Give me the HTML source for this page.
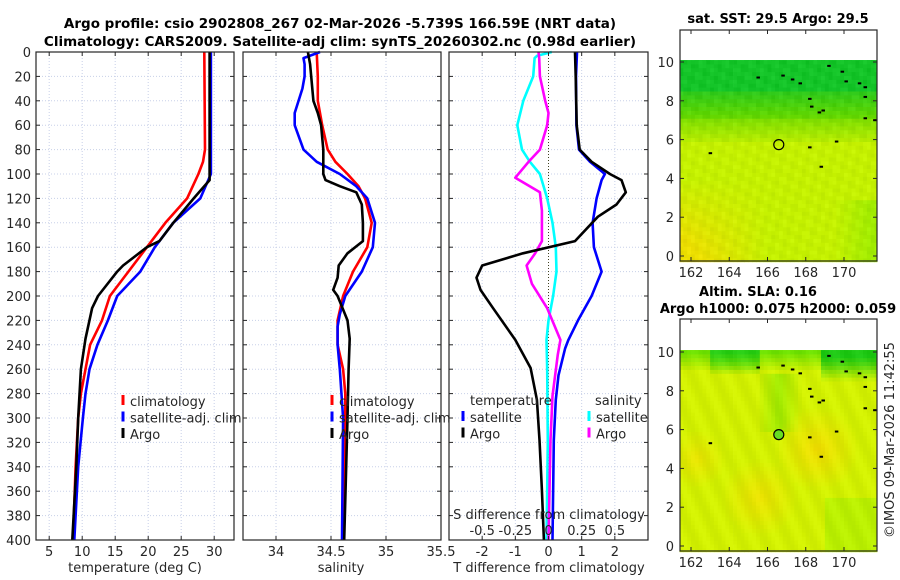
<!DOCTYPE html>
<html><head><meta charset="utf-8">
<style>
body{margin:0;background:#fff;}
svg{display:block;font-family:"DejaVu Sans","Liberation Sans",sans-serif;}
</style></head>
<body>
<svg id="fig" width="900" height="580" viewBox="0 0 900 580">
<text x="340" y="28" text-anchor="middle" font-weight="bold" font-size="13.5">Argo profile: csio 2902808_267 02-Mar-2026 -5.739S 166.59E (NRT data)</text>
<text x="340" y="46" text-anchor="middle" font-weight="bold" font-size="13.5">Climatology: CARS2009. Satellite-adj clim: synTS_20260302.nc (0.98d earlier)</text>
<text x="778" y="23" text-anchor="middle" font-weight="bold" font-size="13">sat. SST: 29.5 Argo: 29.5</text>
<text x="758" y="296" text-anchor="middle" font-weight="bold" font-size="13">Altim. SLA: 0.16</text>
<text x="778" y="313" text-anchor="middle" font-weight="bold" font-size="13">Argo h1000: 0.075 h2000: 0.059</text>
<text transform="translate(894,440) rotate(-90)" text-anchor="middle" font-size="13" fill="#262626">©IMOS 09-Mar-2026 11:42:55</text>
<g id="plots"></g>
</svg>
<script>
// ---- data ----
const depthTicks=[0,20,40,60,80,100,120,140,160,180,200,220,240,260,280,300,320,340,360,380,400];
const tempTicks=[5,10,15,20,25,30];
const salTicks=[34,34.5,35,35.5];
const salTickLabels=["34","34.5","35","35.5"];
const tdiffTicks=[-2,-1,0,1,2];
const sdiffTicks=[-0.5,-0.25,0,0.25,0.5];
const sdiffTickLabels=["-0.5","-0.25","0","0.25","0.5"];
const lonTicks=[162,164,166,168,170];
const latTicks=[0,2,4,6,8,10];

const tClimDepth=[0,80,90,100,120,140,160,180,200,220,240,260,280,300,340,400];
const tClim=[28.5,28.6,28.3,27.6,25.9,22.6,19.8,17.0,14.2,13.0,11.2,10.5,9.8,9.4,9.0,8.6];
const tSatDepth=[0,100,120,140,160,180,200,220,240,260,280,300,340,400];
const tSat=[29.5,29.5,27.9,23.8,21.0,18.8,15.3,13.9,12.3,11.1,10.5,10.1,9.4,8.8];
const tArgoDepth=[0,100,105,120,140,155,160,175,180,200,210,235,260,300,340,400];
const tArgo=[29.3,29.3,29.3,26.9,23.8,21.7,19.8,16.2,15.3,12.4,11.5,10.5,9.8,9.4,9.1,8.5];

const sArgoDepth=[0,10,20,40,50,60,80,100,105,110,115,125,140,155,165,175,185,195,200,220,235,260,300,400];
const sArgo=[34.29,34.31,34.32,34.34,34.38,34.41,34.43,34.43,34.45,34.58,34.73,34.78,34.79,34.79,34.65,34.57,34.56,34.52,34.56,34.65,34.67,34.66,34.65,34.62];
const sClimDepth=[0,20,40,60,80,90,100,110,120,140,160,180,200,220,240,260,280,300,400];
const sClim=[34.37,34.38,34.38,34.42,34.47,34.54,34.65,34.75,34.81,34.87,34.83,34.70,34.61,34.56,34.56,34.61,34.63,34.63,34.61];
const sSatDepth=[0,5,10,20,30,50,60,80,90,100,110,120,140,160,180,200,215,225,240,260,300,400];
const sSat=[34.40,34.25,34.26,34.26,34.24,34.17,34.17,34.25,34.37,34.58,34.73,34.83,34.90,34.88,34.78,34.63,34.58,34.56,34.56,34.58,34.61,34.60];

const dtArgoDepth=[0,20,60,80,90,100,105,115,125,135,155,165,175,185,195,210,236,259,285,318,359,400];
const dtArgo=[0.8,0.82,0.85,0.94,1.3,1.85,2.2,2.33,2.05,1.49,0.8,-0.77,-2.0,-2.17,-2.05,-1.67,-1.0,-0.54,-0.35,-0.27,-0.2,-0.14];
const dtSatDepth=[0,20,60,80,90,100,105,120,140,160,180,200,220,236,243,265,285,318,400];
const dtSat=[0.86,0.83,0.84,0.92,1.25,1.7,1.6,1.45,1.33,1.37,1.6,1.3,0.89,0.6,0.5,0.3,0.22,0.16,0.12];
const dsSatDepth=[0,3,5,20,40,60,80,90,100,120,140,160,180,200,220,236,260,320,400];
const dsSat=[0.025,-0.085,-0.105,-0.115,-0.19,-0.235,-0.2,-0.14,-0.065,-0.01,0.03,0.055,0.06,0.035,0,-0.015,-0.01,-0.005,-0.015];
const dsArgoDepth=[0,5,20,40,50,60,80,90,103,115,130,155,165,175,190,210,236,248,282,318,400];
const dsArgo=[-0.075,-0.07,-0.065,-0.025,0,-0.01,-0.065,-0.15,-0.25,-0.065,-0.05,-0.05,-0.1,-0.165,-0.125,-0.01,0.09,0.07,0.03,0.015,0];

const floatLon=166.59, floatLat=5.74;

// ---- helpers ----
const NS="http://www.w3.org/2000/svg";
const root=document.getElementById('plots');
function mk(tag,attrs,parent){const e=document.createElementNS(NS,tag);for(const k in attrs)e.setAttribute(k,attrs[k]);(parent||root).appendChild(e);return e;}
const Y0=52,Y1=540;
const yD=d=>Y0+(d/400)*(Y1-Y0);
function lin(d0,d1,r0,r1){return v=>r0+(v-d0)/(d1-d0)*(r1-r0);}

function panel(x0,x1,name){
  const g=mk('g',{});
  
  
  return g;
}
function grid(g,x0,x1,xs){
  depthTicks.forEach(d=>{const l=mk('line',{x1:x0,x2:x1,y1:yD(d),y2:yD(d),stroke:'#c8d0e8','stroke-width':1,'stroke-dasharray':'1,2'},g);
    });
  xs.forEach(x=>{const l=mk('line',{x1:x,x2:x,y1:Y0,y2:Y1,stroke:'#c8d0e8','stroke-width':1,'stroke-dasharray':'1,2'},g);
    });
}
function frame(g,x0,x1,xs){
  depthTicks.forEach(d=>{mk('line',{x1:x0,x2:x0+4,y1:yD(d),y2:yD(d),stroke:'#262626'},g);mk('line',{x1:x1-4,x2:x1,y1:yD(d),y2:yD(d),stroke:'#262626'},g);});
  xs.forEach(x=>{mk('line',{x1:x,x2:x,y1:Y1,y2:Y1-4,stroke:'#262626'},g);mk('line',{x1:x,x2:x,y1:Y0,y2:Y0+4,stroke:'#262626'},g);});
  const r=mk('rect',{x:x0,y:Y0,width:x1-x0,height:Y1-Y0,fill:'none',stroke:'#262626','stroke-width':1.2},g);
  
}
function line(g,xs,ds,sx,color,name){
  const pts=xs.map((v,i)=>sx(v).toFixed(1)+','+yD(ds[i]).toFixed(1)).join(' ');
  const p=mk('polyline',{points:pts,fill:'none',stroke:color,'stroke-width':2.6,'stroke-linejoin':'round'},g);
  
}
function txt(g,x,y,s,anchor,size,name){
  const t=mk('text',{x:x,y:y,'text-anchor':anchor||'middle','font-size':size||13,fill:'#262626'},g);
  t.textContent=s;return t;
}
function legend(g,x,y,items){
  items.forEach((it,i)=>{
    const m=mk('line',{x1:x,x2:x,y1:y+i*16.5-11,y2:y+i*16.5-1,stroke:it[1],'stroke-width':3},g);
    
    txt(g,x+7,y+i*16.5,it[0],'start',13,'legend-entry-'+it[2]);
  });
}

// depth axis labels
const ya=mk('g',{});
depthTicks.forEach(d=>txt(ya,31,yD(d)+5,String(d),'end',13,'depth-tick-label'));

// panel 1 temperature
{const x0=36,x1=234;const sx=lin(3,33,x0,x1);const g=panel(x0,x1,'temperature-panel');
 grid(g,x0,x1,tempTicks.map(sx));
 line(g,tClim,tClimDepth,sx,'#ff0000','temp-climatology-line');
 line(g,tSat,tSatDepth,sx,'#0000ff','temp-satellite-line');
 line(g,tArgo,tArgoDepth,sx,'#000000','temp-argo-line');
 frame(g,x0,x1,tempTicks.map(sx));
 tempTicks.forEach(t=>txt(g,sx(t),556,String(t),'middle',13,'temp-tick-label'));
 txt(g,135,572,'temperature (deg C)','middle',13,'temp-axis-title');
 legend(g,123,406,[['climatology','#ff0000','climatology'],['satellite-adj. clim','#0000ff','satellite'],['Argo','#000000','argo']]);
}
// panel 2 salinity
{const x0=243,x1=441;const sx=lin(33.7,35.5,x0,x1);const g=panel(x0,x1,'salinity-panel');
 grid(g,x0,x1,salTicks.map(sx));
 line(g,sClim,sClimDepth,sx,'#ff0000','sal-climatology-line');
 line(g,sSat,sSatDepth,sx,'#0000ff','sal-satellite-line');
 line(g,sArgo,sArgoDepth,sx,'#000000','sal-argo-line');
 frame(g,x0,x1,salTicks.map(sx));
 salTicks.forEach((t,i)=>txt(g,sx(t),556,salTickLabels[i],'middle',13,'sal-tick-label'));
 txt(g,341,572,'salinity','middle',13,'sal-axis-title');
 legend(g,332,406,[['climatology','#ff0000','climatology'],['satellite-adj. clim','#0000ff','satellite'],['Argo','#000000','argo']]);
}
// panel 3 differences
{const x0=449,x1=648;const sx=lin(-3,3,x0,x1);const ss=lin(-0.75,0.75,x0,x1);const g=panel(x0,x1,'difference-panel');
 grid(g,x0,x1,tdiffTicks.map(sx));
 const z=mk('line',{x1:sx(0),x2:sx(0),y1:Y0,y2:Y1,stroke:'#404020','stroke-width':1,'stroke-dasharray':'1,2'},g);
 
 line(g,dsSat,dsSatDepth,ss,'#00ffff','sdiff-satellite-line');
 line(g,dsArgo,dsArgoDepth,ss,'#ff00ff','sdiff-argo-line');
 line(g,dtSat,dtSatDepth,sx,'#0000ff','tdiff-satellite-line');
 line(g,dtArgo,dtArgoDepth,sx,'#000000','tdiff-argo-line');
 frame(g,x0,x1,tdiffTicks.map(sx));
 tdiffTicks.forEach(t=>txt(g,sx(t),556,String(t),'middle',13,'tdiff-tick-label'));
 txt(g,549,572,'T difference from climatology','middle',13,'tdiff-axis-title');
 txt(g,549,519,'S difference from climatology','middle',13,'sdiff-axis-title');
 sdiffTicks.forEach((t,i)=>txt(g,ss(t),535,sdiffTickLabels[i],'middle',13,'sdiff-tick-label'));
 txt(g,470,405,'temperature','start',13,'legend-title-temperature');
 txt(g,595,405,'salinity','start',13,'legend-title-salinity');
 legend(g,463,422,[['satellite','#0000ff','tdiff-satellite'],['Argo','#000000','tdiff-argo']]);
 legend(g,589,422,[['satellite','#00ffff','sdiff-satellite'],['Argo','#ff00ff','sdiff-argo']]);
}

// ---- maps ----
function mix(a,b,t){t=Math.max(0,Math.min(1,t));return a.map((v,i)=>Math.round(v+(b[i]-v)*t));}
function sstColor(lon,lat){
  let c;
  if(lat>8.6)c=[20,196,40];
  else if(lat>7.2)c=mix([100,215,0],[40,200,30],(lat-7.2)/1.4);
  else if(lat>6)c=mix([180,235,0],[120,220,0],(lat-6)/1.2);
  else c=[196,240,0];
  if(lat<4&&lon<166){const w=(1-lat/4)*(1-(lon-161.5)/4.5);c=mix(c,[235,222,0],w*1.3);}
  if(lon>169.5&&lat<3)c=mix(c,[160,235,0],(lon-169.5)/2);
  const n=Math.sin(lon*7.3+lat*3.1)*Math.cos(lat*5.7-lon*2.3)*8;
  return 'rgb('+c.map(v=>Math.max(0,Math.min(255,Math.round(v+n)))).join(',')+')';
}
function slaColor(lon,lat){
  let c=[210,240,0];
  if(lat>9)c=mix(c,[110,225,0],(lat-9)/1);
  if(lat>8.8&&lon>163&&lon<165.5)c=mix(c,[40,205,20],(lat-8.8)/1.2);
  if(lat>8.5&&lon>168.8)c=mix(c,[30,200,20],(lat-8.5)/1.3);
  if(lat>6&&lat<9&&lon>165.5&&lon<167.8)c=mix(c,[160,232,0],1-Math.abs(lon-166.6)/1.2);
  const o=Math.max(0,1-Math.hypot(lon-168.6,lat-5)/2.2)+Math.max(0,1-Math.hypot(lon-165.6,lat-2.5)/2.0)*0.8+Math.max(0,1-Math.hypot(lon-162.3,lat-4.5)/1.5)*0.7;
  c=mix(c,[240,220,0],o);
  if(lon>169&&lat<2.5)c=mix(c,[175,238,0],0.7);
  const n=Math.sin(lon*5.1+lat*2.3)*6;
  return 'rgb('+c.map(v=>Math.max(0,Math.min(255,Math.round(v+n)))).join(',')+')';
}
function map(fy0,fy1,lat10y,lat0y,colorFn,name,fillCircle){
  const fx0=680,fx1=877;
  const sxl=lin(162,170,691,844), syl=lin(0,10,lat0y,lat10y);
  const g=mk('g',{});
  const step=0.2;
  for(let lat=-0.3;lat<10.1;lat+=step){
    for(let lon=161.4;lon<171.75;lon+=step){
      const x=sxl(lon),y=syl(lat+step);
      const w=Math.min(sxl(lon+step),fx1)-x+0.4,h=syl(lat)-y+0.4;
      const yy=Math.max(y,syl(10.1));
      mk('rect',{x:x.toFixed(1),y:yy.toFixed(1),width:w.toFixed(1),height:(h-(yy-y)).toFixed(1),fill:colorFn(lon+step/2,lat+step/2)},g);
    }
  }
  [[163,5.3],[165.5,9.2],[166.8,9.3],[167.3,9.1],[167.7,8.9],[168.2,8.1],[168.3,7.7],[168.7,7.4],[168.9,7.5],[169.6,5.9],[168.2,5.6],[168.8,4.6],[169.2,9.8],[169.9,9.5],[170.1,9.0],[170.8,8.9],[171.1,8.7],[171.1,7.1],[171.6,7.0],[171.1,8.2]].forEach(p=>{
    mk('rect',{x:sxl(p[0])-1.5,y:syl(p[1])-1,width:3.5,height:2,fill:'#000'},g);
  });
  const c=mk('circle',{cx:sxl(floatLon),cy:syl(floatLat),r:5,fill:fillCircle||'none',stroke:'#000','stroke-width':1.2},g);
  
  const fr=mk('rect',{x:fx0,y:fy0,width:fx1-fx0,height:fy1-fy0,fill:'none',stroke:'#262626','stroke-width':1.2},g);
  
  latTicks.forEach(l=>{mk('line',{x1:fx0,x2:fx0+4,y1:syl(l),y2:syl(l),stroke:'#262626'},g);mk('line',{x1:fx1-4,x2:fx1,y1:syl(l),y2:syl(l),stroke:'#262626'},g);
    txt(g,674,syl(l)+5,String(l),'end',13,'lat-tick-label');});
  lonTicks.forEach(l=>{mk('line',{x1:sxl(l),x2:sxl(l),y1:fy1,y2:fy1-4,stroke:'#262626'},g);mk('line',{x1:sxl(l),x2:sxl(l),y1:fy0,y2:fy0+4,stroke:'#262626'},g);
    txt(g,sxl(l),fy1+16,String(l),'middle',13,'lon-tick-label');});
}
map(30,261,62,256,sstColor,'sst-map');
map(319,551,352,546,slaColor,'sla-map','#66dd22');
</script>
</body></html>
